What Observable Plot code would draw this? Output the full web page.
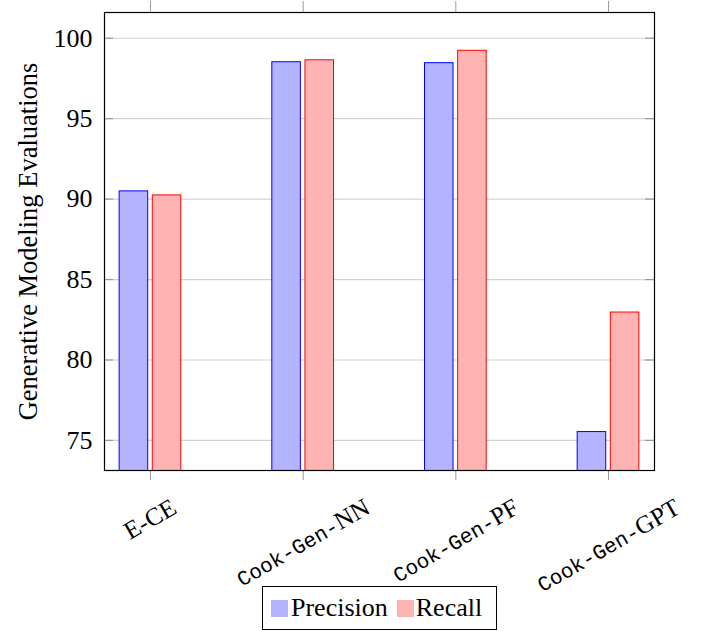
<!DOCTYPE html>
<html><head><meta charset="utf-8">
<script src="https://cdn.jsdelivr.net/npm/d3@7"></script>
<script src="https://cdn.jsdelivr.net/npm/@observablehq/plot@0.6"></script>
<style>
body{margin:0;background:#fff;}
#chart{position:relative;width:701px;height:631px;}
.legend{position:absolute;left:262px;top:586px;width:233px;height:42px;border:1px solid #000;background:#fff;
  display:flex;align-items:center;font-family:'Liberation Serif','Times New Roman',serif;font-size:26px;color:#000;line-height:1;}
.legend .sw{display:inline-block;width:17px;height:17px;margin-left:8px;margin-right:3px;}
.legend .sw.second{margin-left:9px;margin-right:2px;}
</style></head><body><div id="chart"></div><script>
const categories = ["E-CE", "Cook-Gen-NN", "Cook-Gen-PF", "Cook-Gen-GPT"];
const precision = [90.48, 98.51, 98.45, 75.52];
const recall = [90.23, 98.63, 99.22, 82.95];
const seriesNames = ["Precision", "Recall"];
const yTicks = [75, 80, 85, 90, 95, 100];
const yLabel = "Generative Modeling Evaluations";

const yDomain = [73.13, 101.6];
const xDomain = [-0.3012, 3.3012];
const fills = {Precision: "#b3b3ff", Recall: "#ffb3b3"};
const strokes = {Precision: "#0000ff", Recall: "#ff0000"};
const barW = 0.187, gap = 0.015;
const serif = "'Liberation Serif','Times New Roman',serif";
const mono = "'Liberation Mono','Courier New',monospace";
const serifSize = 25, monoSize = 21;

const rows = [];
categories.forEach((c, i) => {
  rows.push({i, series: "Precision", value: precision[i]});
  rows.push({i, series: "Recall", value: recall[i]});
});
const xIdx = categories.map((c, i) => i);
const pxPerUnit = 550 / (xDomain[1] - xDomain[0]);
const yTickLen = 9 / pxPerUnit;

const plot = Plot.plot({
  width: 701, height: 631,
  marginLeft: 104, marginRight: 47, marginTop: 12, marginBottom: 161,
  style: {fontFamily: serif, background: "#fff", color: "#000"},
  x: {type: "linear", domain: xDomain},
  y: {domain: yDomain},
  marks: [
    Plot.gridY(yTicks, {stroke: "#d2d2d2", strokeOpacity: 1, strokeWidth: 1.2}),
    Plot.ruleY(yTicks, {x1: xDomain[0], x2: xDomain[0] + yTickLen, stroke: "#9a9a9a", strokeWidth: 1.2}),
    Plot.ruleY(yTicks, {x1: xDomain[1] - yTickLen, x2: xDomain[1], stroke: "#9a9a9a", strokeWidth: 1.2}),
    Plot.rectY(rows, {
      x1: d => d.series === "Precision" ? d.i - gap - barW : d.i + gap,
      x2: d => d.series === "Precision" ? d.i - gap : d.i + gap + barW,
      y1: 0, y2: "value",
      fill: d => fills[d.series], stroke: d => strokes[d.series], strokeWidth: 1, clip: true
    }),
    Plot.axisY(yTicks, {anchor: "left", tickSize: 0, tickPadding: 12, fontSize: 26, fontFamily: serif, label: null}),
    Plot.axisX(xIdx, {anchor: "bottom", tickSize: 10, stroke: "#9a9a9a", tickFormat: i => categories[i],
      fontSize: serifSize, fontFamily: serif, label: null, tickPadding: 4}),
    Plot.axisX(xIdx, {anchor: "top", tickSize: 12, stroke: "#9a9a9a", tickFormat: () => "", label: null}),
    Plot.text([yLabel], {frameAnchor: "left", dx: -76, rotate: -90, textAnchor: "middle", lineAnchor: "middle",
      fontSize: 26.5, fontFamily: serif, fill: "#000"}),
    Plot.frame({stroke: "#000", strokeWidth: 1.2})
  ]
});
const chart = document.getElementById("chart");
chart.appendChild(plot);

plot.querySelectorAll('g[aria-label="y-axis tick label"] text').forEach(t => {
  t.style.fontFamily = serif; t.setAttribute("fill", "#000");
});

// x tick labels: mixed fonts, rotated 30deg, bbox top aligned, centered at tick
const xs = plot.scale("x");
const topY = 498;
const g = plot.querySelector('g[aria-label="x-axis tick label"]');
if (g) {
  g.removeAttribute("transform");
  const texts = g.querySelectorAll("text");
  const ns = "http://www.w3.org/2000/svg";
  texts.forEach((t, k) => {
    const cat = categories[k];
    while (t.firstChild) t.removeChild(t.firstChild);
    const m = cat.match(/^(Cook-Gen-)(.*)$/);
    t.style.fontFamily = serif;
    t.style.fontSize = serifSize + "px";
    if (m) {
      const a = document.createElementNS(ns, "tspan");
      a.style.fontFamily = mono; a.style.fontSize = monoSize + "px"; a.textContent = m[1];
      const b = document.createElementNS(ns, "tspan");
      b.style.fontFamily = serif; b.style.fontSize = serifSize + "px"; b.textContent = m[2];
      t.appendChild(a); t.appendChild(b);
    } else {
      t.textContent = cat;
    }
    t.setAttribute("text-anchor", "middle");
    t.removeAttribute("x"); t.removeAttribute("dy");
    t.setAttribute("y", "0.33em");
    t.setAttribute("fill", "#000");
    const L = t.getComputedTextLength();
    const cx = xs.apply(k);
    const cy = topY + L / 4 + serifSize * 0.33 * 0.866;
    t.setAttribute("transform", `translate(${cx},${cy}) rotate(-30)`);
  });
}

// legend
const leg = document.createElement("div");
leg.className = "legend";
seriesNames.forEach((s, k) => {
  const sw = document.createElement("span");
  sw.className = k ? "sw second" : "sw"; sw.style.background = fills[s];
  leg.appendChild(sw);
  const tx = document.createElement("span");
  tx.textContent = s;
  leg.appendChild(tx);
});
chart.appendChild(leg);
</script></body></html>
